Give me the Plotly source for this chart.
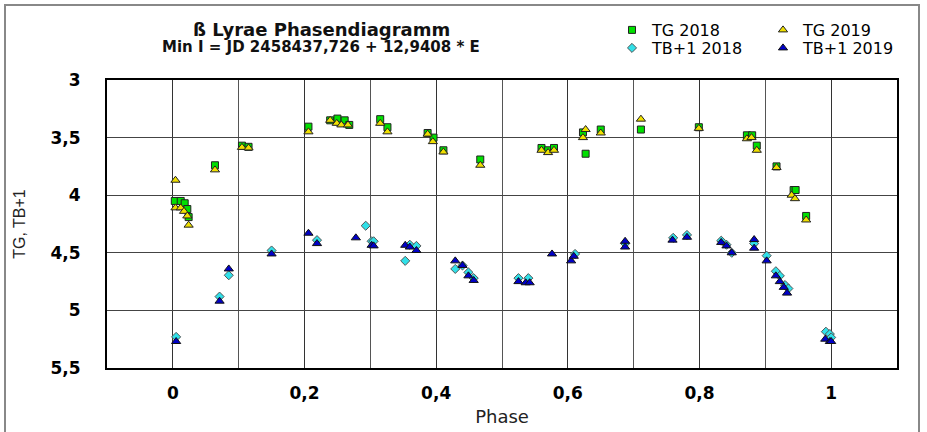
import plotly.graph_objects as go

tg18_phase = [0.003, 0.012, 0.018, 0.022, 0.024, 0.064, 0.105, 0.115, 0.206, 0.239, 0.250, 0.261,
              0.268, 0.315, 0.326, 0.387, 0.396, 0.411, 0.467, 0.560, 0.570, 0.579, 0.623, 0.627,
              0.650, 0.711, 0.799, 0.872, 0.880, 0.887, 0.917, 0.943, 0.946, 0.962]
tg18_mag = [4.05, 4.05, 4.07, 4.12, 4.19, 3.74, 3.57, 3.58, 3.405, 3.35, 3.335, 3.35,
            3.39, 3.34, 3.41, 3.46, 3.50, 3.61, 3.69, 3.59, 3.61, 3.59, 3.455, 3.64,
            3.43, 3.43, 3.41, 3.48, 3.48, 3.57, 3.75, 3.955, 3.955, 4.18]

tg19_phase = [0.004, 0.004, 0.012, 0.017, 0.022, 0.024, 0.064, 0.105, 0.115, 0.206, 0.239, 0.249,
              0.256, 0.266, 0.315, 0.326, 0.387, 0.395, 0.411, 0.467, 0.560, 0.570, 0.579, 0.627,
              0.623, 0.650, 0.711, 0.799, 0.872, 0.879, 0.887, 0.917, 0.940, 0.945, 0.962]
tg19_mag = [3.87, 4.11, 4.11, 4.14, 4.18, 4.26, 3.78, 3.585, 3.59, 3.45, 3.35, 3.376,
            3.39, 3.39, 3.376, 3.45, 3.47, 3.535, 3.625, 3.74, 3.61, 3.63, 3.61, 3.43,
            3.50, 3.46, 3.34, 3.42, 3.51, 3.50, 3.61, 3.76, 4.0, 4.03, 4.215]

tb18_phase = [0.005, 0.071, 0.085, 0.150, 0.219, 0.293, 0.302, 0.305, 0.353, 0.360, 0.370, 0.429,
              0.440, 0.449, 0.457, 0.525, 0.540, 0.611, 0.687, 0.760, 0.781, 0.833, 0.841, 0.849,
              0.883, 0.902, 0.916, 0.922, 0.930, 0.935, 0.992, 0.998, 1.000]
tb18_mag = [5.23, 4.88, 4.695, 4.48, 4.39, 4.265, 4.40, 4.40, 4.57, 4.43, 4.44, 4.64,
            4.61, 4.67, 4.72, 4.72, 4.72, 4.51, 4.42, 4.37, 4.345, 4.395, 4.43, 4.50,
            4.42, 4.525, 4.66, 4.70, 4.78, 4.81, 5.185, 5.205, 5.235]

tb19_phase = [0.005, 0.071, 0.085, 0.150, 0.206, 0.219, 0.278, 0.302, 0.305, 0.353, 0.360, 0.370,
              0.429, 0.440, 0.449, 0.457, 0.525, 0.536, 0.542, 0.576, 0.605, 0.609, 0.687, 0.687,
              0.759, 0.781, 0.833, 0.841, 0.849, 0.883, 0.883, 0.902, 0.916, 0.922, 0.928, 0.933,
              0.991, 0.998, 1.000]
tb19_mag = [5.27, 4.92, 4.64, 4.51, 4.33, 4.42, 4.37, 4.435, 4.44, 4.435, 4.45, 4.48,
            4.57, 4.61, 4.70, 4.74, 4.75, 4.76, 4.76, 4.51, 4.57, 4.53, 4.40, 4.45,
            4.39, 4.365, 4.41, 4.44, 4.50, 4.385, 4.46, 4.57, 4.70, 4.75, 4.80, 4.85,
            5.25, 5.27, 5.27]

ARIAL = "Arial, 'Liberation Sans', sans-serif"
WIDE = "'DejaVu Sans', Verdana, sans-serif"

fig = go.Figure()
fig.add_trace(go.Scatter(x=tg18_phase, y=tg18_mag, mode="markers", name="TG 2018", legend="legend",
                         marker=dict(symbol="square", size=7, color="#00e000",
                                     line=dict(color="#222", width=1))))
fig.add_trace(go.Scatter(x=tg19_phase, y=tg19_mag, mode="markers", name="TG 2019", legend="legend",
                         marker=dict(symbol="triangle-up", size=8, color="#f0e000",
                                     line=dict(color="#222", width=1))))
fig.add_trace(go.Scatter(x=tb18_phase, y=tb18_mag, mode="markers", name="TB+1 2018", legend="legend2",
                         marker=dict(symbol="diamond", size=7, color="#30e0e8",
                                     line=dict(color="#555", width=1))))
fig.add_trace(go.Scatter(x=tb19_phase, y=tb19_mag, mode="markers", name="TB+1 2019", legend="legend2",
                         marker=dict(symbol="triangle-up", size=8, color="#0000c8",
                                     line=dict(color="#111", width=1))))

legend_common = dict(orientation="h", xanchor="left", yanchor="middle", entrywidth=106,
                     font=dict(family=WIDE, size=16, color="#000"), bgcolor="rgba(0,0,0,0)",
                     itemsizing="trace", tracegroupgap=0, itemwidth=30)

fig.update_layout(
    width=927, height=432,
    margin=dict(l=107, r=30, t=80, b=64, autoexpand=False),
    paper_bgcolor="white", plot_bgcolor="white",
    separators=",.",
    showlegend=True,
    legend=dict(x=(612 - 107) / 790, y=(368 - 30) / 288, **legend_common),
    legend2=dict(x=(612 - 107) / 790, y=(368 - 48) / 288, **legend_common),
    xaxis=dict(range=[-0.1, 1.1], tick0=0, dtick=0.2, showgrid=True, gridcolor="#333", gridwidth=1,
               minor=dict(dtick=0.1, showgrid=True, gridcolor="#555", gridwidth=1),
               zeroline=False, showline=True, linecolor="#000", linewidth=2, mirror=True,
               ticks="", ticklabelstandoff=9, automargin=False,
               tickfont=dict(family=WIDE, size=17, color="#000", weight="bold"),
               title=dict(text="Phase", font=dict(family=WIDE, size=18, color="#222"), standoff=8)),
    yaxis=dict(range=[5.5, 3], tick0=3, dtick=0.5, showgrid=True, gridcolor="#444", gridwidth=1,
               zeroline=False, showline=True, linecolor="#000", linewidth=2, mirror=True,
               ticks="", ticklabelstandoff=21, automargin=False,
               tickfont=dict(family=WIDE, size=17, color="#000", weight="bold"),
               title=dict(text="TG, TB+1", font=dict(family=ARIAL, size=16, color="#222"), standoff=21)),
    shapes=[dict(type="rect", xref="paper", yref="paper",
                 x0=(5 - 107) / 790, x1=(919 - 107) / 790, y0=(368 - 440) / 288, y1=(368 - 5) / 288,
                 line=dict(color="#888", width=2), fillcolor="rgba(0,0,0,0)", layer="below")],
    annotations=[
        dict(text="ß Lyrae Phasendiagramm", xref="paper", yref="paper",
             x=(321 - 107) / 790, y=(368 - 30) / 288, showarrow=False, xanchor="center", yanchor="middle",
             font=dict(family=WIDE, size=18, color="#111", weight="bold")),
        dict(text="Min I = JD 2458437,726 + 12,9408 * E", xref="paper", yref="paper",
             x=(321 - 107) / 790, y=(368 - 47) / 288, showarrow=False, xanchor="center", yanchor="middle",
             font=dict(family=WIDE, size=15, color="#111", weight="bold")),
    ],
)

fig.write_html("out.html", config={"displayModeBar": False},
               post_script="document.body.style.margin='0';")
